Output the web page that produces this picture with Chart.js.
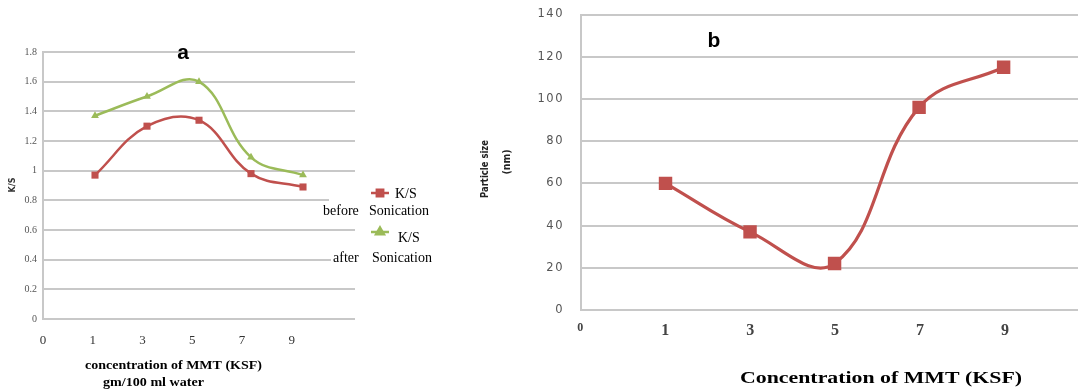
<!DOCTYPE html>
<html>
<head>
<meta charset="utf-8">
<script src="https://cdn.jsdelivr.net/npm/chart.js@4"></script>
<style>
  html, body { margin: 0; padding: 0; background: #fff; }
  body { width: 1078px; height: 392px; position: relative; overflow: hidden; }
  .panel { position: absolute; top: 0; height: 392px; }
  #panelA { left: 0; width: 450px; }
  #panelB { left: 450px; width: 628px; }
  canvas { display: block; }
</style>
</head>
<body>
<div class="panel" id="panelA"><canvas id="chartA" width="450" height="392"></canvas></div>
<div class="panel" id="panelB"><canvas id="chartB" width="628" height="392"></canvas></div>
<script>
// MMT (KSF) concentration, gm/100 ml water
const concentrations = [1, 3, 5, 7, 9];

// Panel a: colour strength K/S
const ksBefore = [0.97, 1.30, 1.34, 0.98, 0.89];
const ksAfter  = [1.37, 1.50, 1.60, 1.09, 0.97];

// Panel b: particle size (nm)
const particleSize = [60, 37, 22, 96, 115];

// Axis tick labels
const xTickLabels   = ['0', '1', '3', '5', '7', '9'];
const ksTicks       = [0, 0.2, 0.4, 0.6, 0.8, 1, 1.2, 1.4, 1.6, 1.8];
const ksTickLabels  = ['0', '0.2', '0.4', '0.6', '0.8', '1', '1.2', '1.4', '1.6', '1.8'];
const sizeTicks     = [0, 20, 40, 60, 80, 100, 120, 140];
const sizeTickLabels = ['0', '20', '40', '60', '80', '100', '120', '140'];

const RED = '#c0504d';
const GREEN = '#9bbb59';
const GRID = '#c8c8c8';

const toPoints = (xs, ys) => xs.map((x, i) => ({ x: x, y: ys[i] }));

// Free text drawn on the canvas (titles, axis names, legend)
function drawText(ctx, t) {
  ctx.save();
  ctx.font = t.font;
  ctx.fillStyle = t.color || '#000';
  ctx.textAlign = t.align || 'center';
  ctx.textBaseline = 'middle';
  ctx.translate(t.x, t.y);
  if (t.rot) ctx.rotate(t.rot);
  if (t.w) {
    const m = ctx.measureText(t.text).width;
    ctx.scale(t.w / m, 1);
  }
  ctx.fillText(t.text, 0, 0);
  ctx.restore();
}

const textPlugin = {
  id: 'texts',
  afterDraw(chart, args, opts) {
    const ctx = chart.ctx;
    (opts.boxes || []).forEach(b => {
      ctx.save();
      ctx.fillStyle = '#fff';
      ctx.fillRect(b.x, b.y, b.w, b.h);
      ctx.restore();
    });
    (opts.marks || []).forEach(m => {
      ctx.save();
      ctx.strokeStyle = m.color;
      ctx.lineWidth = 2.5;
      ctx.beginPath();
      ctx.moveTo(m.x - 9, m.y);
      ctx.lineTo(m.x + 9, m.y);
      ctx.stroke();
      Chart.helpers.drawPoint(ctx, { pointStyle: m.style, radius: m.r, borderWidth: 1 }, m.x, m.y);
      ctx.fillStyle = m.color;
      ctx.fill();
      ctx.restore();
    });
    (opts.items || []).forEach(t => drawText(ctx, t));
  }
};

// Wider letter spacing for the panel b value axis
const spacingPlugin = {
  id: 'tickSpacing',
  beforeDraw(chart, args, opts) { chart.ctx.letterSpacing = opts.spacing || '0px'; },
  beforeDatasetsDraw(chart) { chart.ctx.letterSpacing = '0px'; }
};

// Value axes: fixed width, no extra label padding above/below the plot
const fixWidth = w => s => { s.width = w; s.paddingTop = 0; s.paddingBottom = 0; };

Chart.defaults.animation = false;

// ---------- Panel a ----------
new Chart(document.getElementById('chartA'), {
  type: 'line',
  data: {
    datasets: [
      {
        label: 'K/S before Sonication',
        data: toPoints(concentrations, ksBefore),
        borderColor: RED, backgroundColor: RED,
        borderWidth: 2.5, tension: 0.4,
        pointStyle: 'rect', pointRadius: 5, pointBorderWidth: 0
      },
      {
        label: 'K/S after Sonication',
        data: toPoints(concentrations, ksAfter),
        borderColor: GREEN, backgroundColor: GREEN,
        borderWidth: 2.5, tension: 0.4,
        pointStyle: 'triangle', pointRadius: 4.5, pointBorderWidth: 0
      }
    ]
  },
  options: {
    responsive: false,
    animation: false,
    layout: { autoPadding: false, padding: { top: 52, right: 95, left: 0, bottom: 0 } },
    plugins: {
      legend: { display: false },
      tooltip: { enabled: false },
      texts: {
        boxes: [
          { x: 329, y: 196, w: 40, h: 8 },
          { x: 331, y: 256, w: 40, h: 8 }
        ],
        marks: [
          { x: 380, y: 193, color: RED, style: 'rect', r: 4.5 },
          { x: 380, y: 232, color: GREEN, style: 'triangle', r: 4.5 }
        ],
        items: [
          { text: 'a', x: 183, y: 53, font: 'bold 21px "Liberation Sans", Arial, sans-serif' },
          { text: 'K/S', x: 13, y: 185, rot: -Math.PI / 2, font: 'bold 8px "DejaVu Sans", sans-serif', color: '#333' },
          { text: 'concentration of MMT (KSF)', x: 173.5, y: 366, w: 177, font: 'bold 13px "Liberation Serif", "Times New Roman", serif' },
          { text: 'gm/100 ml water', x: 153.5, y: 383, w: 101, font: 'bold 13px "Liberation Serif", "Times New Roman", serif' },
          { text: 'K/S', x: 395, y: 194, align: 'left', font: '14px "Liberation Serif", serif' },
          { text: 'before', x: 323, y: 211, align: 'left', font: '14px "Liberation Serif", serif' },
          { text: 'Sonication', x: 369, y: 211, align: 'left', font: '14px "Liberation Serif", serif' },
          { text: 'K/S', x: 398, y: 238, align: 'left', font: '14px "Liberation Serif", serif' },
          { text: 'after', x: 333, y: 258, align: 'left', font: '14px "Liberation Serif", serif' },
          { text: 'Sonication', x: 372, y: 258, align: 'left', font: '14px "Liberation Serif", serif' }
        ]
      }
    },
    scales: {
      x: { type: 'linear', min: -1, max: 11, display: false },
      xl: {
        type: 'linear', position: 'bottom', min: 0, max: 6.27,
        afterBuildTicks: s => { s.ticks = xTickLabels.map((_, i) => ({ value: i })); },
        afterFit: s => { s.height = 73; },
        ticks: {
          callback: (v, i) => xTickLabels[i],
          autoSkip: false, maxRotation: 0, padding: 14,
          font: { family: '"Liberation Serif", serif', size: 13 },
          color: '#333'
        },
        grid: { display: false, drawTicks: false },
        border: { display: false }
      },
      y: {
        type: 'linear', min: 0, max: 1.8,
        afterBuildTicks: s => { s.ticks = ksTicks.map(v => ({ value: v })); },
        afterFit: fixWidth(43),
        ticks: {
          callback: (v, i) => ksTickLabels[i],
          padding: 6,
          font: { family: '"Liberation Serif", serif', size: 10 },
          color: '#555'
        },
        grid: { color: GRID, lineWidth: 2, drawTicks: false },
        border: { display: true, color: GRID, width: 2 }
      }
    }
  },
  plugins: [textPlugin]
});

// ---------- Panel b ----------
new Chart(document.getElementById('chartB'), {
  type: 'line',
  data: {
    datasets: [
      {
        label: 'Particle size (nm)',
        data: toPoints(concentrations, particleSize),
        borderColor: RED, backgroundColor: RED,
        borderWidth: 3.2, tension: 0.4,
        pointStyle: 'rect', pointRadius: 9.5, pointBorderWidth: 0
      }
    ]
  },
  options: {
    responsive: false,
    animation: false,
    layout: { autoPadding: false, padding: { top: 14.5, right: 0, left: 0, bottom: 0 } },
    plugins: {
      legend: { display: false },
      tooltip: { enabled: false },
      tickSpacing: { spacing: '1.5px' },
      texts: {
        items: [
          { text: 'b', x: 264, y: 41, font: 'bold 21px "Liberation Sans", Arial, sans-serif' },
          { text: 'Particle size', x: 35, y: 169, rot: -Math.PI / 2, w: 58, font: 'bold 10px "DejaVu Sans", sans-serif', color: '#222' },
          { text: '(nm)', x: 57, y: 162, rot: -Math.PI / 2, w: 25, font: 'bold 10px "DejaVu Sans", sans-serif', color: '#222' },
          { text: 'Concentration of MMT (KSF)', x: 431, y: 379, w: 282, font: 'bold 16px "Liberation Serif", "Times New Roman", serif' }
        ]
      }
    },
    scales: {
      x: { type: 'linear', min: -1, max: 10.76, display: false },
      xl: {
        type: 'linear', position: 'bottom', min: 0, max: 5.85,
        afterBuildTicks: s => { s.ticks = xTickLabels.map((_, i) => ({ value: i })); },
        afterFit: s => { s.height = 82; },
        ticks: {
          callback: (v, i) => xTickLabels[i],
          autoSkip: false, maxRotation: 0, padding: 11,
          font: c => ({ family: '"Liberation Serif", serif', size: c.index === 0 ? 12 : 16, weight: 'bold' }),
          color: '#444'
        },
        grid: { display: false, drawTicks: false },
        border: { display: false }
      },
      y: {
        type: 'linear', min: 0, max: 140,
        afterBuildTicks: s => { s.ticks = sizeTicks.map(v => ({ value: v })); },
        afterFit: fixWidth(131),
        ticks: {
          callback: (v, i) => sizeTickLabels[i],
          padding: 17,
          font: { family: '"DejaVu Sans", sans-serif', size: 11.5 },
          color: '#555'
        },
        grid: { color: GRID, lineWidth: 2, drawTicks: false },
        border: { display: true, color: GRID, width: 2 }
      }
    }
  },
  plugins: [spacingPlugin, textPlugin]
});
</script>
</body>
</html>
